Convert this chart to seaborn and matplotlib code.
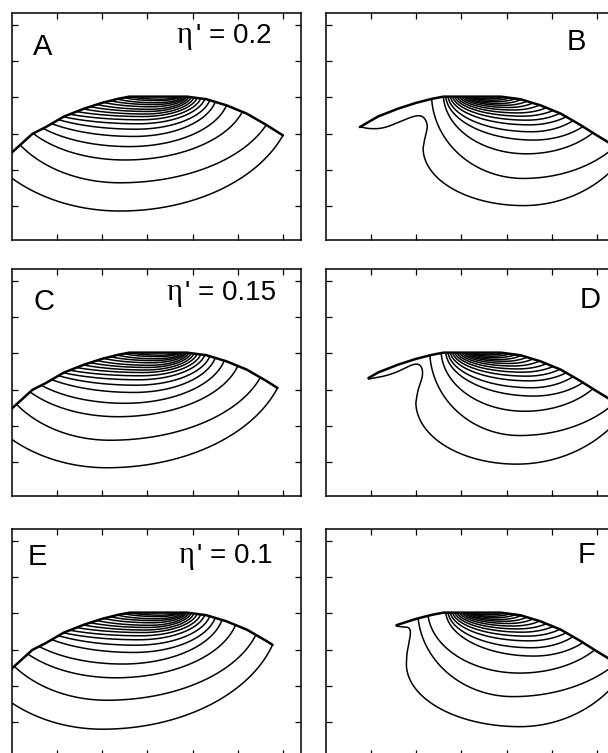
import numpy as np
import pandas as pd
import matplotlib
matplotlib.use("Agg")
import matplotlib.pyplot as plt
import seaborn as sns

sns.set_theme(style="ticks")
plt.rcParams["font.family"] = ["Liberation Sans", "DejaVu Sans"]

# ---------------------------------------------------------------- data ---
# upper rim of the domain (same in every panel)
rim_x = [-0.8, -0.4, 0.0, 0.45, 0.75, 1.15, 1.6, 2.0, 2.35, 2.6, 3.87, 4.3, 4.75, 5.2, 5.63, 6.0, 6.25, 6.5, 6.8]
rim_y = [0.58, 1.03, 1.48, 1.99, 2.18, 2.47, 2.69, 2.85, 2.96, 3.02, 3.02, 2.95, 2.78, 2.55, 2.24, 1.95, 1.76, 1.48, 1.15]

panel_labels = ["A", "B", "C", "D", "E", "F"]
eta_values = ["0.2", "0.15", "0.1"]

# left column: iso-lines given by left end on the rim, trough (x, y), right end on the rim
left_inner_xl = [0.88, 1.03, 1.14, 1.28, 1.43, 1.58, 1.73, 1.88, 2.03, 2.18, 2.33, 2.48, 2.6]
left_inner_xb = [2.7, 2.75, 2.8, 2.85, 2.9, 2.95, 3.0, 3.05, 3.1, 3.15, 3.2, 3.25, 3.3]
left_inner_yb = [1.92, 2.12, 2.27, 2.38, 2.47, 2.54, 2.61, 2.67, 2.74, 2.80, 2.85, 2.91, 2.95]
left_inner_xr = [4.5, 4.38, 4.27, 4.18, 4.1, 4.03, 3.97, 3.92, 3.88, 3.85, 3.8, 3.75, 3.7]

A_outer_xl = [-0.33, 0.18, 0.47, 0.69]
A_outer_xb = [2.39, 2.39, 2.5, 2.6]
A_outer_yb = [-0.14, 0.64, 1.27, 1.64]
A_outer_xr = [6.0, 5.63, 5.1, 4.75]

C_outer_xl = [-0.4, 0.1, 0.4, 0.65]
C_outer_xb = [2.1, 2.17, 2.35, 2.5]
C_outer_yb = [-0.16, 0.6, 1.25, 1.62]
C_outer_xr = [5.88, 5.5, 5.0, 4.7]

E_outer_xl = [-0.45, 0.05, 0.35, 0.6]
E_outer_xb = [2.0, 2.1, 2.3, 2.45]
E_outer_yb = [-0.2, 0.6, 1.22, 1.6]
E_outer_xr = [5.77, 5.4, 4.95, 4.65]

# right column: inner iso-lines shared by B, D, F
right_inner_xl = [2.65, 2.7, 2.75, 2.8, 2.85, 2.9, 2.95, 3.0, 3.05, 3.1, 3.15, 3.2, 3.25]
right_inner_xb = [4.6, 4.55, 4.5, 4.45, 4.35, 4.25, 4.15, 4.05, 3.95, 3.85, 3.75, 3.65, 3.55]
right_inner_yb = [1.82, 2.05, 2.24, 2.37, 2.48, 2.57, 2.65, 2.72, 2.78, 2.83, 2.88, 2.92, 2.96]
right_inner_xr = [5.69, 5.47, 5.32, 5.18, 5.03, 4.88, 4.73, 4.58, 4.45, 4.32, 4.2, 4.08, 3.97]

B_outer_xl = [2.34, 2.6]
B_outer_xb = [4.37, 4.44]
B_outer_yb = [0.76, 1.44]
B_outer_xr = [6.38, 5.91]

D_outer_xl = [2.3, 2.55]
D_outer_xb = [4.29, 4.4]
D_outer_yb = [0.73, 1.4]
D_outer_xr = [6.38, 5.91]

F_outer_xl = [2.04, 2.26]
F_outer_xb = [4.14, 4.29]
F_outer_yb = [0.7, 1.35]
F_outer_xr = [6.4, 5.95]

# outermost line of the right column: tongue from the tip, hook, trough, right end
B_tongue_x = [0.75, 0.95, 1.27, 1.64, 2.0, 2.17, 2.26, 2.2, 2.15]
B_tongue_y = [2.19, 2.13, 2.14, 2.33, 2.51, 2.47, 2.22, 1.95, 1.6]
B_hook = (4.37, 0.01, 6.6)

D_tongue_x = [0.94, 1.34, 1.64, 1.97, 2.12, 2.15, 2.04, 1.99]
D_tongue_y = [2.29, 2.38, 2.52, 2.73, 2.66, 2.38, 2.02, 1.65]
D_hook = (4.22, -0.06, 6.6)

F_tongue_x = [1.56, 1.7, 1.83, 1.88, 1.84, 1.79, 1.78]
F_tongue_y = [2.65, 2.62, 2.62, 2.5, 2.2, 1.9, 1.6]
F_hook = (4.29, -0.13, 6.6)

# ------------------------------------------------------------ drawing ---
CY = 3.1  # height of the arc centres, just above the rim crest


def rim(x):
    return np.interp(x, rim_x, rim_y)


def arc_line(xl, xb, yb, xr, n=160):
    b = CY - yb
    xs, ys = [], []
    if xl < xb:
        sl = np.arcsin(np.clip((CY - rim(xl)) / b, -1, 0.999))
        al = (xb - xl) / np.cos(sl)
        s = np.linspace(sl, np.pi / 2, n)
        xs.append(xb - al * np.cos(s)); ys.append(CY - b * np.sin(s))
    if xr > xb:
        sr = np.arcsin(np.clip((CY - rim(xr)) / b, -1, 0.999))
        ar = (xr - xb) / np.cos(sr)
        s = np.linspace(np.pi / 2, sr, n)
        xs.append(xb + ar * np.cos(s)); ys.append(CY - b * np.sin(s))
    return np.concatenate(xs), np.concatenate(ys)


def chaikin(x, y, rounds=4):
    p = np.column_stack([x, y])
    for _ in range(rounds):
        q = 0.75 * p[:-1] + 0.25 * p[1:]
        r = 0.25 * p[:-1] + 0.75 * p[1:]
        mid = np.empty((2 * len(q), 2))
        mid[0::2], mid[1::2] = q, r
        p = np.vstack([p[:1], mid, p[-1:]])
    return p[:, 0], p[:, 1]


def hook_line(tx, ty, hook, n=160):
    xb, yb, xr = hook
    x0, y0 = chaikin(tx, ty)
    xv, yv = tx[-1], ty[-1]
    s = np.linspace(0, np.pi / 2, n)
    x1 = xb - (xb - xv) * np.cos(s)
    y1 = yv - (yv - yb) * np.sin(s)
    x2, y2 = arc_line(xb, xb, yb, xr, n)
    return np.concatenate([x0, x1, x2]), np.concatenate([y0, y1, y2])


def rim_line(x0, x1):
    xs = [x0] + [v for v in rim_x if x0 < v < x1] + [x1]
    return np.array(xs), rim(np.array(xs))


left_panels = [
    (A_outer_xl, A_outer_xb, A_outer_yb, A_outer_xr),
    (C_outer_xl, C_outer_xb, C_outer_yb, C_outer_xr),
    (E_outer_xl, E_outer_xb, E_outer_yb, E_outer_xr),
]
right_panels = [
    (B_outer_xl, B_outer_xb, B_outer_yb, B_outer_xr, B_tongue_x, B_tongue_y, B_hook),
    (D_outer_xl, D_outer_xb, D_outer_yb, D_outer_xr, D_tongue_x, D_tongue_y, D_hook),
    (F_outer_xl, F_outer_xb, F_outer_yb, F_outer_xr, F_tongue_x, F_tongue_y, F_hook),
]

fig = plt.figure(figsize=(6.08, 7.53), dpi=100)
W, H = 608.0, 753.0
col_left = [12, 326]
row_top = [13, 269, 529]
aw, ah = 289, 227

eta_split = [0.625, 0.59, 0.63]
eta_base = [0.868, 0.864, 0.85]
letter_pos = [(0.073, 0.815), (0.834, 0.837), (0.073, 0.82), (0.879, 0.83), (0.055, 0.84), (0.872, 0.85)]


def style_axes(ax):
    ax.set_xlim(0, 6.4)
    ax.set_ylim(-0.94, 5.33)
    ax.set_xticks(range(1, 7))
    ax.set_yticks(range(0, 6))
    ax.tick_params(direction="in", length=4, width=0.9, color="black",
                   top=True, right=True, labelbottom=False, labelleft=False)
    for sp in ax.spines.values():
        sp.set_visible(True)
        sp.set_color("black")
        sp.set_linewidth(1.1)
    ax.set_xlabel("")
    ax.set_ylabel("")
    ax.set_facecolor("white")


def draw(ax, lines, rim_range):
    rows = []
    for k, (x, y) in enumerate(lines):
        rows.append(pd.DataFrame({"x": x, "y": y, "line": k}))
    df = pd.concat(rows, ignore_index=True)
    sns.lineplot(data=df, x="x", y="y", units="line", estimator=None, sort=False,
                 color="black", linewidth=1.1, legend=False, ax=ax)
    rx, ry = rim_line(*rim_range)
    sns.lineplot(x=rx, y=ry, sort=False, estimator=None, color="black", linewidth=1.8, ax=ax)


for r in range(3):
    # left column
    ax = fig.add_axes([col_left[0] / W, 1 - (row_top[r] + ah) / H, aw / W, ah / H])
    oxl, oxb, oyb, oxr = left_panels[r]
    lines = []
    for p in zip(oxl + left_inner_xl, oxb + left_inner_xb, oyb + left_inner_yb, oxr + left_inner_xr):
        lines.append(arc_line(*p))
    draw(ax, lines, (-0.8, oxr[0]))
    style_axes(ax)
    lx, ly = letter_pos[2 * r]
    ax.text(lx, ly, panel_labels[2 * r], transform=ax.transAxes, fontsize=21,
            ha="left", va="baseline", color="black")
    ax.text(eta_split[r], eta_base[r], "\u03b7", transform=ax.transAxes, fontsize=22,
            family=["Liberation Serif", "DejaVu Serif"], ha="right", va="baseline", color="black")
    ax.text(eta_split[r] + 0.01, eta_base[r], "' = " + eta_values[r], transform=ax.transAxes,
            fontsize=20, ha="left", va="baseline", color="black")

    # right column
    ax = fig.add_axes([col_left[1] / W, 1 - (row_top[r] + ah) / H, aw / W, ah / H])
    oxl, oxb, oyb, oxr, tx, ty, hook = right_panels[r]
    lines = [hook_line(tx, ty, hook)]
    for p in zip(oxl + right_inner_xl, oxb + right_inner_xb, oyb + right_inner_yb, oxr + right_inner_xr):
        lines.append(arc_line(*p))
    draw(ax, lines, (tx[0], 6.8))
    style_axes(ax)
    lx, ly = letter_pos[2 * r + 1]
    ax.text(lx, ly, panel_labels[2 * r + 1], transform=ax.transAxes, fontsize=21,
            ha="left", va="baseline", color="black")

fig.savefig("out.png", dpi=100, facecolor="white")
